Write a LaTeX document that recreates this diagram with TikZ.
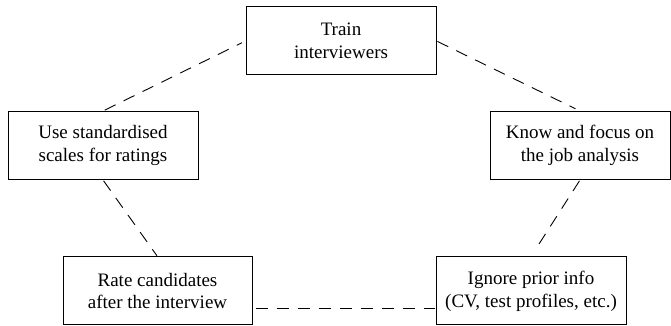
\documentclass[tikz,border=0pt]{standalone}
\usepackage{fontspec}
\setmainfont{Liberation Serif}
\begin{document}
\begin{tikzpicture}[x=1pt,y=1pt]
\tikzset{
  box/.style={draw, line width=1pt, inner sep=0pt, minimum height=68pt,
    align=center, font=\fontsize{19}{22.7}\selectfont},
  link/.style={dash pattern=on 12pt off 9pt, line width=0.9pt}
}
\useasboundingbox (0,0) rectangle (671,326);

% the five practices
\node[box, minimum width=190pt] (train)  at (341,285)   {Train\\interviewers};
\node[box, minimum width=190pt] (scales) at (103,180.5) {Use standardised\\scales for ratings};
\node[box, minimum width=180pt] (job)    at (580,180.5) {Know and focus on\\the job analysis};
\node[box, minimum width=189pt] (rate)   at (157.5,35)  {Rate candidates\\after the interview};
\node[box, minimum width=190pt] (ignore) at (531,35)    {Ignore prior info\\(CV, test profiles, etc.)};

% dashed ring joining them
\draw[link, shorten <=2pt, shorten >=4pt] (scales.north) -- (train.west);
\draw[link, shorten <=1pt, shorten >=5pt] (train.east) -- (job.north);
\draw[link, shorten <=1pt, shorten >=1pt] (scales.south) -- (rate.north);
\draw[link, shorten <=1pt, shorten >=8pt] (job.south) -- (ignore.north);
\draw[link, shorten <=3pt, shorten >=1pt] ([yshift=-17pt]rate.east) -- ([yshift=-17pt]ignore.west);
\end{tikzpicture}
\end{document}
